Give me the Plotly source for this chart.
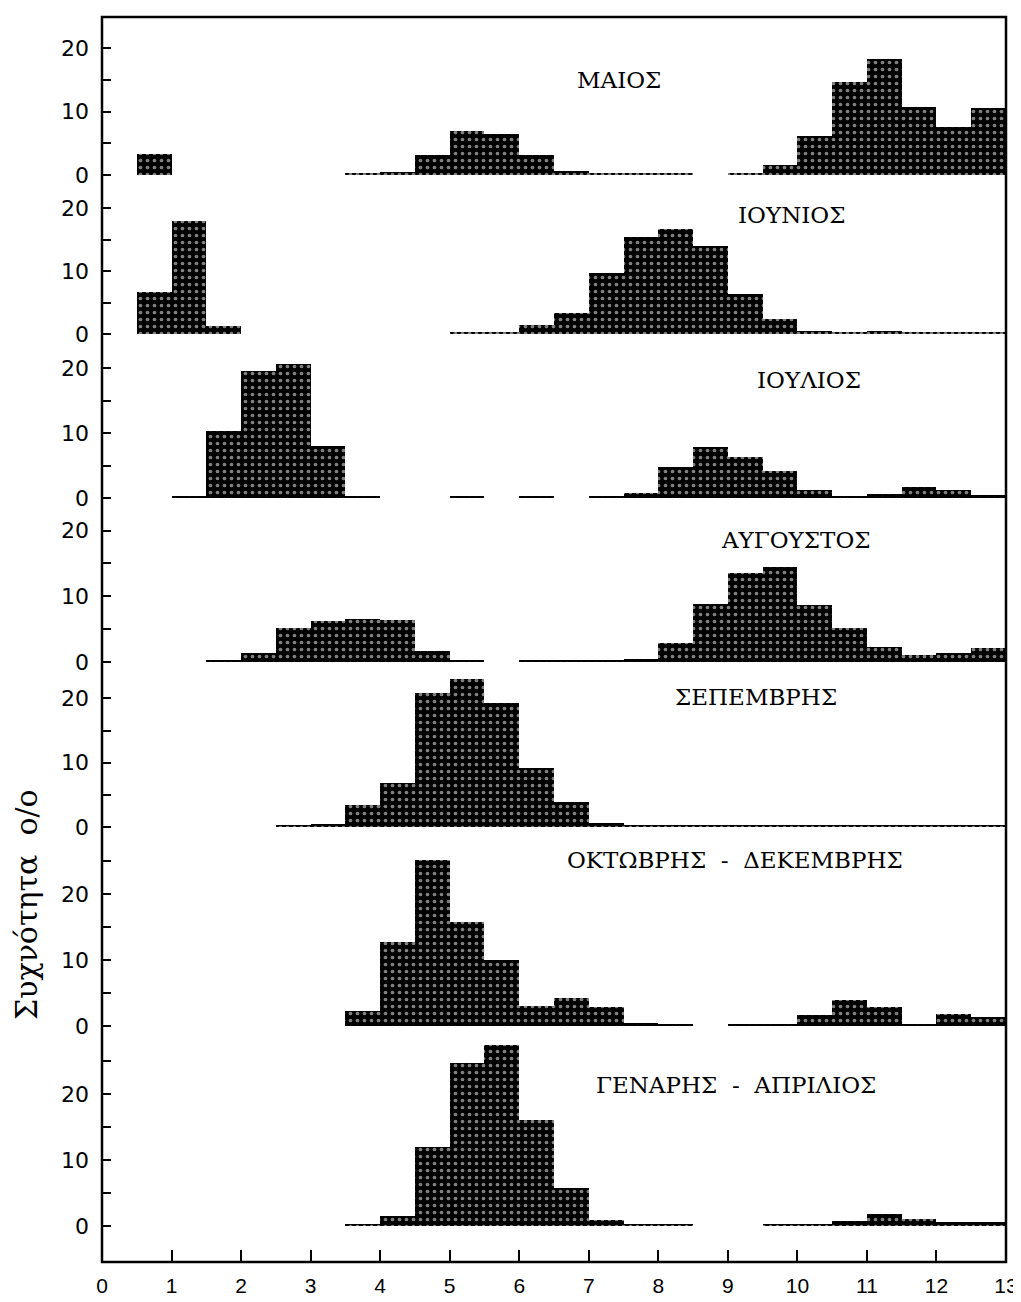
import plotly.graph_objects as go

# ---------------- data ----------------
bin_left = [0.0, 0.5, 1.0, 1.5, 2.0, 2.5, 3.0, 3.5, 4.0, 4.5, 5.0, 5.5, 6.0,
            6.5, 7.0, 7.5, 8.0, 8.5, 9.0, 9.5, 10.0, 10.5, 11.0, 11.5, 12.0, 12.5]

x_ticks = [0, 1, 2, 3, 4, 5, 6, 7, 8, 9, 10, 11, 12, 13]
y_ticks = [0, 5, 10, 15, 20, 25]
y_ticktext = ["0", "", "10", "", "20", ""]

panel_names = ["ΜΑΙΟΣ", "ΙΟΥΝΙΟΣ", "ΙΟΥΛΙΟΣ", "ΑΥΓΟΥΣΤΟΣ", "ΣΕΠΕΜΒΡΗΣ",
               "ΟΚΤΩΒΡΗΣ  -  ΔΕΚΕΜΒΡΗΣ", "ΓΕΝΑΡΗΣ  -  ΑΠΡΙΛΙΟΣ"]

maios = [None, 3.3, None, None, None, None, None, 0.3, 0.4, 3.2, 6.9, 6.5, 3.2,
         0.6, 0.3, 0.3, 0.3, None, 0.3, 1.5, 6.2, 14.7, 18.2, 10.7, 7.6, 10.5]
iounios = [None, 6.6, 18.0, 1.3, None, None, None, None, None, None, 0.3, 0.3, 1.4,
           3.4, 9.7, 15.4, 16.7, 14.0, 6.3, 2.4, 0.5, 0.3, 0.4, 0.3, 0.3, 0.3]
ioulios = [None, None, 0.3, 10.3, 19.6, 20.6, 8.0, 0.3, None, None, 0.3, None, 0.3,
           None, 0.3, 0.8, 4.8, 7.9, 6.3, 4.1, 1.3, 0.3, 0.6, 1.7, 1.3, 0.5]
avgoustos = [None, None, None, 0.3, 1.3, 5.1, 6.2, 6.5, 6.4, 1.6, 0.3, None, 0.3,
             0.3, 0.3, 0.5, 2.9, 8.8, 13.5, 14.4, 8.7, 5.1, 2.3, 1.1, 1.3, 2.1]
septemvris = [None, None, None, None, None, 0.3, 0.4, 3.4, 6.8, 20.9, 23.0, 19.3, 9.2,
              3.9, 0.7, 0.3, 0.3, 0.3, 0.3, 0.3, 0.3, 0.3, 0.3, 0.3, 0.3, 0.3]
okt_dek = [None, None, None, None, None, None, None, 2.2, 12.8, 25.2, 15.8, 10.0, 3.0,
           4.2, 2.9, 0.4, 0.3, None, 0.3, 0.3, 1.7, 4.0, 2.9, 0.3, 1.8, 1.3]
gen_apr = [None, None, None, None, None, None, None, 0.3, 1.5, 11.9, 24.7, 27.4, 16.0,
           5.7, 0.9, 0.3, 0.3, None, None, 0.3, 0.3, 0.8, 1.8, 1.0, 0.6, 0.6]

series = [maios, iounios, ioulios, avgoustos, septemvris, okt_dek, gen_apr]

# ---------------- geometry (page pixels) ----------------
OFF = 8                       # default page margin around the plot div
PAGE_W, PAGE_H = 1021, 1302
W, H = PAGE_W - OFF, PAGE_H - OFF
FRAME_L, FRAME_R, FRAME_T, FRAME_B = 102, 1006, 17, 1262
L, T = FRAME_L - OFF, FRAME_T - OFF
R = (PAGE_W - FRAME_R)
B = (PAGE_H - FRAME_B)
PW = FRAME_R - FRAME_L
PH = FRAME_B - FRAME_T
bounds = [17, 183, 342, 506, 670, 835, 1034, 1262]
baselines = [175, 334, 498, 662, 827, 1026, 1226]
scales = [6.35, 6.3, 6.5, 6.57, 6.43, 6.6, 6.6]
label_pos = [(619, 80), (791, 215), (809, 380), (796, 540), (756, 697), (735, 860), (736, 1085)]

def py2paper(py):
    return (FRAME_B - py) / PH

def px2paper(px):
    return (px - FRAME_L) / PW

fig = go.Figure()
layout_axes = {}
for k, vals in enumerate(series):
    sfx = "" if k == 0 else str(k + 1)
    fig.add_trace(go.Bar(
        x=bin_left, y=vals, width=0.5, offset=0,
        xaxis="x" + sfx, yaxis="y" + sfx,
        marker=dict(color="black", line=dict(width=0),
                    pattern=dict(shape=".", fgcolor="white", bgcolor="black",
                                 size=7, solidity=0.22, fillmode="overlay")),
        hoverinfo="x+y",
    ))
    top_px, bot_px = bounds[k], bounds[k + 1]
    base, s = baselines[k], scales[k]
    layout_axes["yaxis" + sfx] = dict(
        domain=[py2paper(bot_px), py2paper(top_px)],
        range=[-(bot_px - base) / s, (base - top_px) / s],
        anchor="x" + sfx, automargin=False,
        tickvals=y_ticks, ticktext=y_ticktext,
        ticks="inside", ticklen=9, tickwidth=1.5, tickcolor="black",
        showgrid=False, zeroline=False, showline=False,
        tickfont=dict(family="DejaVu Sans", size=22, color="black"),
        ticklabelstandoff=12,
        fixedrange=True,
    )
    xa = dict(domain=[0, 1], range=[0, 13], anchor="y" + sfx, automargin=False,
              showgrid=False, zeroline=False, showline=False)
    if k == len(series) - 1:
        xa.update(tickvals=x_ticks, ticks="inside", ticklen=12, tickwidth=1.5,
                  tickcolor="black",
                  tickfont=dict(family="Liberation Sans Narrow, Liberation Sans", size=21,
                                color="black"),
                  ticklabelstandoff=9)
    else:
        xa.update(showticklabels=False, ticks="", matches="x7")
    layout_axes["xaxis" + sfx] = xa

fig.update_layout(**layout_axes)

annotations = []
for name, (px, py) in zip(panel_names, label_pos):
    annotations.append(dict(
        x=px2paper(px), y=py2paper(py), xref="paper", yref="paper",
        text=name, showarrow=False, xanchor="center", yanchor="middle",
        font=dict(family="DejaVu Serif", size=23, color="black")))
annotations.append(dict(
    x=px2paper(26), y=py2paper(905), xref="paper", yref="paper",
    text="Συχνότητα\u00a0\u00a0ο/ο", showarrow=False, textangle=-90,
    xanchor="center", yanchor="middle",
    font=dict(family="DejaVu Serif", size=30, color="black")))

fig.update_layout(
    width=W, height=H,
    margin=dict(l=L, r=R, t=T, b=B, pad=0),
    plot_bgcolor="white", paper_bgcolor="white",
    showlegend=False, bargap=0,
    annotations=annotations,
    shapes=[dict(type="rect", xref="paper", yref="paper", x0=0, y0=0, x1=1, y1=1,
                 line=dict(color="black", width=2.5), layer="above")],
)

fig.write_html("out.html")
